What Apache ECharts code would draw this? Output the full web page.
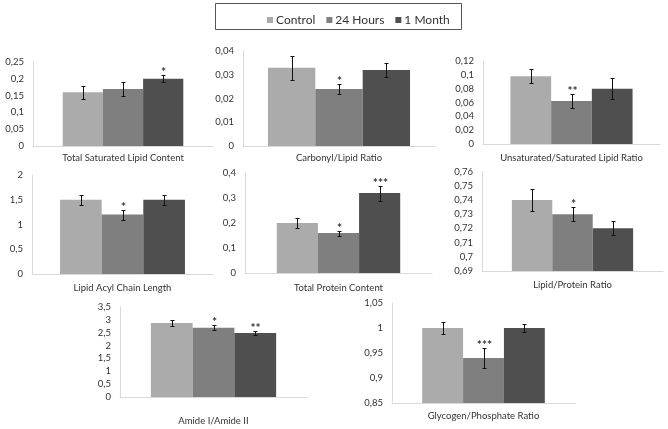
<!DOCTYPE html>
<html><head><meta charset="utf-8">
<script src="https://cdn.jsdelivr.net/npm/echarts/dist/echarts.min.js"></script>
<style>html,body{margin:0;padding:0;background:#fff}#c{width:668px;height:429px}</style>
</head><body><div id="c"></div>
<script>
const seriesNames = ['Control', '24 Hours', '1 Month'];
const panelTitles = ['Total Saturated Lipid Content', 'Carbonyl/Lipid Ratio', 'Unsaturated/Saturated Lipid Ratio',
  'Lipid Acyl Chain Length', 'Total Protein Content', 'Lipid/Protein Ratio', 'Amide I/Amide II', 'Glycogen/Phosphate Ratio'];
const controlValues = [0.16, 0.033, 0.098, 1.5, 0.2, 0.74, 2.88, 1.0];
const hours24Values = [0.17, 0.024, 0.062, 1.2, 0.16, 0.73, 2.69, 0.94];
const monthValues = [0.2, 0.032, 0.08, 1.5, 0.32, 0.72, 2.49, 1.0];
const controlErrors = [0.02, 0.005, 0.01, 0.1, 0.02, 0.008, 0.1, 0.012];
const hours24Errors = [0.02, 0.002, 0.01, 0.1, 0.01, 0.005, 0.1, 0.02];
const monthErrors = [0.01, 0.003, 0.015, 0.1, 0.03, 0.005, 0.08, 0.008];
const controlSig = ['', '', '', '', '', '', '', ''];
const hours24Sig = ['', '*', '**', '*', '*', '*', '*', '***'];
const monthSig = ['*', '', '', '', '***', '', '**', ''];
const yMin = [0, 0, 0, 0, 0, 0.69, 0, 0.85];
const yMax = [0.25, 0.04, 0.12, 2, 0.4, 0.76, 3.5, 1.05];
const yInterval = [0.05, 0.01, 0.02, 0.5, 0.1, 0.01, 0.5, 0.05];

// layout (styles, not data)
const gridBoxes = [
  [33, 62, 180, 84], [243, 51, 192, 95], [483, 61, 177, 83],
  [32, 175, 181, 99], [245, 173, 187, 100], [482, 171.5, 181, 99.5],
  [120, 307, 187, 90], [392, 303, 183, 100]
];
const gapFrac = [0.33, 0.26, 0.31, 0.31, 0.34, 0.33, 0.33, 0.33];
const titleMargin = [7, 7, 9, 9, 10, 9, 19, 8];
const colors = ['#ababab', '#7f7f7f', '#4f4f4f'];
const FONT = 'Lato';

const groups = [
  {vals: controlValues, errs: controlErrors, sig: controlSig},
  {vals: hours24Values, errs: hours24Errors, sig: hours24Sig},
  {vals: monthValues, errs: monthErrors, sig: monthSig}
];

const grid = [], xAxis = [], yAxis = [], series = [];
function fmt(v) { return String(+v.toFixed(4)).replace('.', ','); }

for (let p = 0; p < 8; p++) {
  const b = gridBoxes[p];
  grid.push({left: b[0], top: b[1], width: b[2], height: b[3], containLabel: false});
  xAxis.push({
    type: 'category', gridIndex: p, data: [panelTitles[p]],
    axisLine: {lineStyle: {color: '#d9d9d9'}}, axisTick: {show: false},
    axisLabel: {interval: 0, margin: titleMargin[p], fontFamily: FONT, fontSize: 9.5, color: '#333'}
  });
  yAxis.push({
    type: 'value', gridIndex: p, min: yMin[p], max: yMax[p], interval: yInterval[p],
    axisLine: {show: true, lineStyle: {color: '#d9d9d9'}}, axisTick: {show: false},
    splitLine: {show: false},
    axisLabel: {margin: 9, fontFamily: FONT, fontSize: 9.5, color: '#333', formatter: fmt}
  });
  groups.forEach((g, gi) => {
    series.push({
      type: 'bar', name: seriesNames[gi], xAxisIndex: p, yAxisIndex: p,
      data: [g.vals[p]], barGap: '0%', barCategoryGap: (gapFrac[p] * 100) + '%',
      itemStyle: {color: colors[gi]}, silent: true
    });
  });
  groups.forEach((g, gi) => {
    series.push({
      type: 'custom', xAxisIndex: p, yAxisIndex: p, z: 5, silent: true,
      data: [[0, g.vals[p], g.errs[p]]],
      renderItem: function (params, api) {
        const v = api.value(1), e = api.value(2);
        const band = api.size([1, 0])[0];
        const bw = band * (1 - gapFrac[p]) / 3;
        const c = api.coord([0, v]);
        const x = Math.round(c[0] + (gi - 1) * bw) + 0.5;
        const yT = Math.round(api.coord([0, v + e])[1]) + 0.5;
        const yB = Math.round(api.coord([0, v - e])[1]) + 0.5;
        const st = {stroke: '#111', lineWidth: 1};
        const children = [
          {type: 'line', shape: {x1: x, y1: yT, x2: x, y2: yB}, style: st},
          {type: 'line', shape: {x1: x - 2, y1: yT, x2: x + 2, y2: yT}, style: st},
          {type: 'line', shape: {x1: x - 2, y1: yB, x2: x + 2, y2: yB}, style: st}
        ];
        const s = g.sig[p];
        if (s) children.push({type: 'text', x: x, y: yT + 3, style: {text: s, textAlign: 'center', textVerticalAlign: 'bottom', fontSize: 12, fontWeight: 'bold', fontFamily: FONT, fill: '#333'}});
        return {type: 'group', children: children};
      }
    });
  });
}

const chart = echarts.init(document.getElementById('c'), null, {renderer: 'canvas'});
chart.setOption({
  animation: false,
  backgroundColor: '#fff',
  legend: {
    data: seriesNames, left: 262, top: 9, icon: 'rect', itemWidth: 6, itemHeight: 6, itemGap: 11,
    textStyle: {fontFamily: FONT, fontSize: 12, color: '#333', padding: [0, 0, 0, -2]},
    selectedMode: false
  },
  graphic: [{type: 'rect', shape: {x: 215.5, y: 3.5, width: 246, height: 26}, style: {fill: 'none', stroke: '#555', lineWidth: 1}, silent: true}],
  grid: grid, xAxis: xAxis, yAxis: yAxis, series: series
});
</script>
</body></html>
